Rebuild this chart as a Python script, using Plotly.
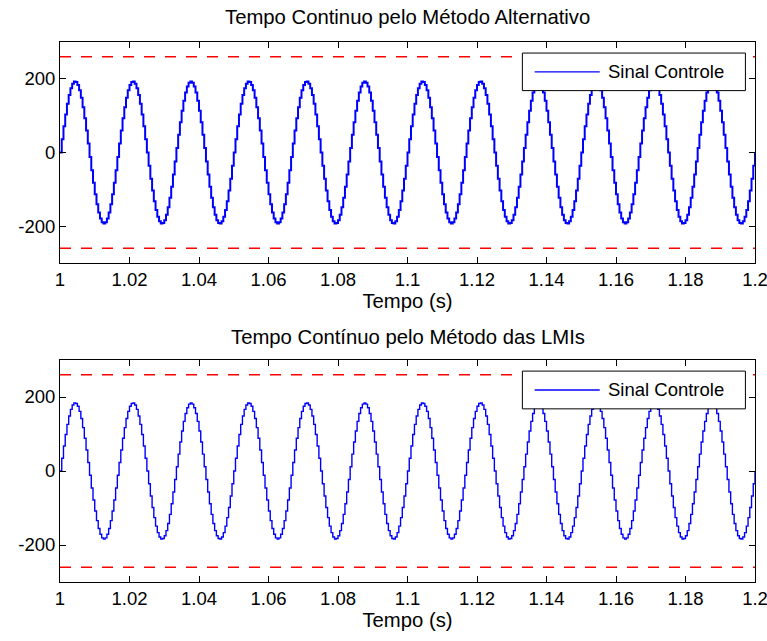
import numpy as np
import plotly.graph_objects as go
from plotly.subplots import make_subplots

# --- values ---
titles = ["Tempo Continuo pelo Método Alternativo", "Tempo Contínuo pelo Método das LMIs"]
x_label = "Tempo (s)"
legend_name = "Sinal Controle"
t_start, t_end = 1.0, 1.2
signal_freq_hz = 60.0            # 12 cycles between 1.0 s and 1.2 s
amplitudes = [193.0, 184.0]      # peak value of the control signal in each panel
sample_period = 0.0005           # zero-order-hold step visible on the curve
limit_values = [260.0, -260.0]   # red dashed saturation limits
x_tickvals = [1.0, 1.02, 1.04, 1.06, 1.08, 1.1, 1.12, 1.14, 1.16, 1.18, 1.2]
x_ticktext = ["1", "1.02", "1.04", "1.06", "1.08", "1.1", "1.12", "1.14", "1.16", "1.18", "1.2"]
y_tickvals = [-200, 0, 200]
y_ticktext = ["-200", "0", "200"]
y_range = [-300, 300]

FONT = "Liberation Sans, Arial, Helvetica, sans-serif"
FS_TICK = 18.5
FS_TITLE = 20.3
FS_LEG = 18.5

fig = make_subplots(rows=2, cols=1, vertical_spacing=0.18)

t = np.arange(t_start, t_end + sample_period / 2, sample_period)
for i, amp in enumerate(amplitudes):
    row = i + 1
    u = amp * np.sin(2 * np.pi * signal_freq_hz * (t - t_start))
    fig.add_trace(go.Scatter(x=t, y=u, mode="lines", name=legend_name,
                             line=dict(color="#0000FF", width=2.0 if i == 0 else 1.4, shape="hv"),
                             showlegend=False), row=row, col=1)
    for lv in limit_values:
        fig.add_trace(go.Scatter(x=[t_start, t_end], y=[lv, lv], mode="lines",
                                 line=dict(color="#FF0000", width=1.5, dash="11px,10px"),
                                 showlegend=False, hoverinfo="skip"), row=row, col=1)

axis_common = dict(showline=True, linecolor="black", linewidth=1, mirror="ticks",
                   ticks="inside", ticklen=6, tickcolor="black", showgrid=False,
                   zeroline=False, automargin=False, ticklabeloverflow="allow",
                   tickfont=dict(family=FONT, size=FS_TICK, color="black"))

for i in range(2):
    xa = "xaxis" if i == 0 else "xaxis2"
    ya = "yaxis" if i == 0 else "yaxis2"
    fig.layout[xa].update(range=[t_start, t_end], tickvals=x_tickvals, ticktext=x_ticktext,
                          title=dict(text=x_label, font=dict(family=FONT, size=FS_TITLE, color="black"), standoff=3),
                          **axis_common)
    fig.layout[ya].update(range=y_range, tickvals=y_tickvals, ticktext=y_ticktext, **axis_common)

fig.layout.yaxis.domain = [0.5907, 1.0]
fig.layout.yaxis2.domain = [0.0, 0.4111]

annotations = []
title_y = [1.0454, 0.4528]
for i, ttl in enumerate(titles):
    annotations.append(dict(text=ttl, x=0.5, y=title_y[i], xref="paper", yref="paper",
                            xanchor="center", yanchor="middle", showarrow=False,
                            font=dict(family=FONT, size=FS_TITLE, color="black")))

# legend box drawn inside each panel (top right)
shapes = []
for i in range(2):
    xd = "x domain" if i == 0 else "x2 domain"
    yd = "y domain" if i == 0 else "y2 domain"
    shapes.append(dict(type="rect", xref=xd, yref=yd, x0=0.6653, x1=0.9862, y0=0.7800, y1=0.9500,
                       line=dict(color="black", width=1), fillcolor="white", layer="above"))
    shapes.append(dict(type="line", xref=xd, yref=yd, x0=0.6830, x1=0.7766, y0=0.8650, y1=0.8650,
                       line=dict(color="#0000FF", width=1.3), layer="above"))
    annotations.append(dict(text=legend_name, xref=xd, yref=yd, x=0.7855, y=0.8650,
                            xanchor="left", yanchor="middle", showarrow=False,
                            font=dict(family=FONT, size=FS_LEG, color="black")))

fig.update_layout(width=767, height=641, paper_bgcolor="white", plot_bgcolor="white",
                  margin=dict(l=60, r=12, t=42, b=59), annotations=annotations, shapes=shapes,
                  font=dict(family=FONT, size=FS_TICK, color="black"), showlegend=False)

fig.write_html("out.html", config={"displayModeBar": False},
               post_script="document.documentElement.style.overflow='hidden';"
                           "document.body.style.margin='0';document.body.style.overflow='hidden';")
